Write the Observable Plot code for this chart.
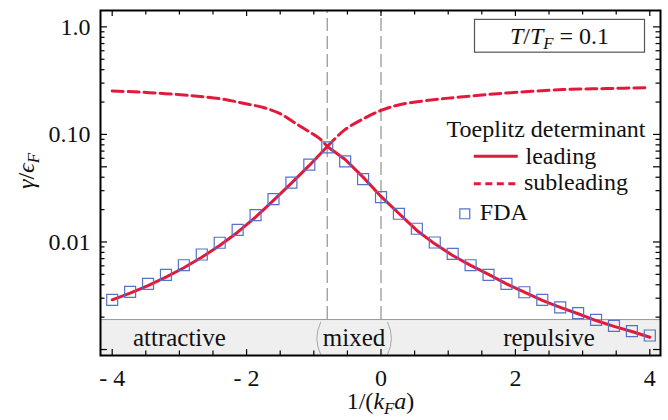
<!DOCTYPE html>
<html><head><meta charset="utf-8">
<script src="https://cdn.jsdelivr.net/npm/d3@7"></script>
<script src="https://cdn.jsdelivr.net/npm/@observablehq/plot@0.6"></script>
<style>body{margin:0;background:#fff}</style>
</head><body><div id="chart"></div>
<script>
// ---- data ----
const fdaX = [-4, -3.7333, -3.4667, -3.2, -2.9333, -2.6667, -2.4, -2.1333, -1.8667, -1.6, -1.3333, -1.0667, -0.8, -0.5333, -0.2667, 0, 0.2667, 0.5333, 0.8, 1.0667, 1.3333, 1.6, 1.8667, 2.1333, 2.4, 2.6667, 2.9333, 3.2, 3.4667, 3.7333, 4];
const fdaY = [0.00290, 0.00344, 0.00408, 0.00495, 0.00608, 0.00765, 0.00984, 0.01297, 0.01775, 0.0250, 0.0357, 0.0523, 0.0757, 0.0561, 0.0384, 0.0261, 0.01829, 0.01327, 0.00989, 0.00776, 0.00608, 0.00495, 0.00408, 0.00341, 0.00290, 0.00247, 0.00218, 0.00189, 0.00166, 0.00148, 0.00135];
const leadingY = [0.00290, 0.00334, 0.00393, 0.00471, 0.00576, 0.00722, 0.00928, 0.01233, 0.01702, 0.02432, 0.0352, 0.0515, 0.0773, 0.0585, 0.0401, 0.0265, 0.0184, 0.0128, 0.00961, 0.00749, 0.00606, 0.00499, 0.00408, 0.00341, 0.00286, 0.00247, 0.00215, 0.00186, 0.00164, 0.00147, 0.00130];
const subLeftX = [-4, -3.68, -3.33, -2.98, -2.69, -2.35, -2.05, -1.74, -1.50, -1.30, -1.10, -0.90, -0.80];
const subLeftY = [0.253, 0.249, 0.242, 0.234, 0.225, 0.213, 0.195, 0.177, 0.156, 0.130, 0.109, 0.090, 0.077];
const subRightX = [-0.80, -0.55, -0.26, 0, 0.29, 0.78, 1.18, 1.73, 2.71, 3.35, 4.0];
const subRightY = [0.077, 0.109, 0.140, 0.167, 0.190, 0.210, 0.223, 0.239, 0.261, 0.267, 0.272];

const regionBounds = [-0.8, 0];
const regionNames = ["attractive", "mixed", "repulsive"];
const regionCenters = [-3.0, -0.4, 2.5];
const bracketX = [-0.94, 0.14];
const bandTop = 0.0019;
const bandLabelY = 0.00127;

const xLabelTicks = [-4, -2, 0, 2, 4];
const xTickLabels = ["- 4", "- 2", "0", "2", "4"];
const xMinorTicks = [-3.5, -3, -2.5, -1.5, -1, -0.5, 0.5, 1, 1.5, 2.5, 3, 3.5];
const yLabelTicks = [1, 0.1, 0.05, 0.01];
const yTickLabels = ["1.0", "0.10", "0.05", "0.01"];
const yMajorTicks = [1, 0.1, 0.05, 0.01, 0.001];
const yMinorTicks = [];
for (const dec of [0.001, 0.01, 0.1]) for (let m = 2; m <= 9; m++) if (!(dec === 0.01 && m === 5)) yMinorTicks.push(+(m * dec).toPrecision(3));

const legendTitle = "Toeplitz determinant";
const legendNames = ["leading", "subleading", "FDA"];
const paramLabel = "T/TF = 0.1";
const yLabel = "γ/ϵF";
const xLabel = "1/(kFa)";

// ---- tables ----
const fda = fdaX.map((x, i) => ({x, y: fdaY[i]}));
const lead = fdaX.map((x, i) => ({x, y: leadingY[i]}));
const sub = [
  ...subLeftX.map((x, i) => ({x, y: subLeftY[i], b: "L"})),
  ...subRightX.map((x, i) => ({x, y: subRightY[i], b: "R"}))
];

// ---- layout ----
const W = 668, H = 420, mL = 100, mR = 8, mT = 10, mB = 65;
const plotW = W - mL - mR, plotH = H - mT - mB;
const xDomain = [-4.174, 4.159], yDomain = [0.00088, 1.42];
const red = "#e3193b", blue = "#5472c6";
const serif = "Liberation Serif";
const lineSym = {draw(ctx) { ctx.moveTo(-22, 0); ctx.lineTo(22, 0); }};
const lParen = {draw(ctx) { ctx.moveTo(3, -16.5); ctx.quadraticCurveTo(-5, 0, 3, 16.5); }};
const rParen = {draw(ctx) { ctx.moveTo(-3, -16.5); ctx.quadraticCurveTo(5, 0, -3, 16.5); }};
const tk = {stroke: "black", strokeWidth: 1.2};
const lg = {frameAnchor: "top-right", lineAnchor: "middle", fontSize: 24, fontFamily: serif, text: d => d};

const chart = Plot.plot({
  width: W, height: H,
  marginLeft: mL, marginRight: mR, marginTop: mT, marginBottom: mB,
  style: {fontFamily: serif, background: "#fff", color: "#111"},
  x: {domain: xDomain},
  y: {type: "log", domain: yDomain},
  marks: [
    Plot.rect([0], {x1: () => xDomain[0], x2: () => xDomain[1], y1: () => yDomain[0], y2: () => bandTop, fill: "#efefef"}),
    Plot.ruleY([bandTop], {stroke: "#999", strokeWidth: 1}),
    Plot.ruleX(regionBounds, {y1: () => bandTop, y2: () => yDomain[1], stroke: "#9a9a9a", strokeWidth: 1.3, strokeDasharray: "13,5"}),
    Plot.text(regionNames, {x: (d, i) => regionCenters[i], y: () => bandLabelY, text: d => d, fontSize: 25, fontFamily: serif, fill: "#111"}),
    Plot.dot([bracketX[0]], {x: d => d, y: () => bandLabelY, symbol: lParen, stroke: "#a8a8a8", strokeWidth: 1, fill: "none"}),
    Plot.dot([bracketX[1]], {x: d => d, y: () => bandLabelY, symbol: rParen, stroke: "#a8a8a8", strokeWidth: 1, fill: "none"}),
    Plot.line(sub, {x: "x", y: "y", z: "b", stroke: red, strokeWidth: 3, strokeDasharray: "11,5", curve: "catmull-rom"}),
    Plot.line(lead, {x: "x", y: "y", stroke: red, strokeWidth: 3}),
    Plot.dot(fda, {x: "x", y: "y", symbol: "square", r: 6.2, stroke: blue, strokeWidth: 1.2, fill: "none"}),
    // inward ticks on all four sides
    Plot.tickY(yMajorTicks, {y: d => d, insetRight: plotW - 7, ...tk}),
    Plot.tickY(yMinorTicks, {y: d => d, insetRight: plotW - 4.5, ...tk}),
    Plot.tickY(yMajorTicks, {y: d => d, insetLeft: plotW - 7, ...tk}),
    Plot.tickY(yMinorTicks, {y: d => d, insetLeft: plotW - 4.5, ...tk}),
    Plot.tickX(xLabelTicks, {x: d => d, insetBottom: plotH - 6, ...tk}),
    Plot.tickX(xMinorTicks, {x: d => d, insetBottom: plotH - 4.5, ...tk}),
    Plot.tickX(xLabelTicks, {x: d => d, insetTop: plotH - 6, ...tk}),
    Plot.tickX(xMinorTicks, {x: d => d, insetTop: plotH - 4.5, ...tk}),
    Plot.frame({stroke: "black", strokeWidth: 2}),
    Plot.axisY({ticks: yLabelTicks, tickSize: 0, tickPadding: 10, fontSize: 24, fontFamily: serif, label: null,
      tickFormat: d => yTickLabels[yLabelTicks.indexOf(d)]}),
    Plot.axisX({ticks: xLabelTicks, tickSize: 0, tickPadding: 13, fontSize: 24, fontFamily: serif, label: null,
      tickFormat: d => xTickLabels[xLabelTicks.indexOf(d)]}),
    // axis titles
    Plot.text([yLabel], {text: d => d, frameAnchor: "left", textAnchor: "middle", lineAnchor: "middle", rotate: -90, dx: -74, dy: -12, fontSize: 24, fontFamily: serif}),
    Plot.text([xLabel], {text: d => d, frameAnchor: "bottom", textAnchor: "middle", lineAnchor: "middle", dy: 45.5, fontSize: 24, fontFamily: serif}),
    // legend
    Plot.text([paramLabel], {...lg, dx: -101, dy: 25.6, textAnchor: "middle"}),
    Plot.text([legendTitle], {...lg, dx: -15, dy: 119, textAnchor: "end"}),
    Plot.dot([0], {frameAnchor: "top-right", dx: -164.7, dy: 145.7, symbol: lineSym, stroke: red, strokeWidth: 3, fill: "none"}),
    Plot.text([legendNames[0]], {...lg, dx: -135, dy: 145.6, textAnchor: "start"}),
    Plot.dot([0], {frameAnchor: "top-right", dx: -164.7, dy: 173.3, symbol: lineSym, stroke: red, strokeWidth: 3, strokeDasharray: "7,4.5", fill: "none"}),
    Plot.text([legendNames[1]], {...lg, dx: -136.5, dy: 172.3, textAnchor: "start"}),
    Plot.dot([0], {frameAnchor: "top-right", dx: -195.7, dy: 203.3, symbol: "square", r: 5.6, stroke: blue, strokeWidth: 1.2, fill: "none"}),
    Plot.text([legendNames[2]], {...lg, dx: -180.7, dy: 202.3, textAnchor: "start"})
  ]
});
document.getElementById("chart").appendChild(chart);

// ---- math formatting (italics / subscripts) ----
const mathSpec = {
  [yLabel]: [["γ", "i"], ["/", ""], ["ϵ", "i"], ["F", "is"]],
  [xLabel]: [["1/(", ""], ["k", "i"], ["F", "is"], ["a", "i"], [")", ""]],
  [paramLabel]: [["T", "i"], ["/", ""], ["T", "i"], ["F", "is"], [" = 0.1", ""]]
};
let boxText = null, boxPlain = null;
d3.select(chart).selectAll("text").each(function() {
  const spec = mathSpec[this.textContent];
  if (!spec) return;
  if (this.textContent === paramLabel) { boxText = this; boxPlain = this.getBBox(); }
  const fs = parseFloat(getComputedStyle(this).fontSize);
  const sel = d3.select(this);
  sel.text(null);
  let shifted = false;
  for (const [t, f] of spec) {
    const ts = sel.append("tspan").text(t);
    if (f.includes("i")) ts.attr("font-style", "italic");
    if (f.includes("s")) {
      ts.attr("font-size", 0.7 * fs);
      if (!shifted) { ts.attr("dy", 0.22 * fs); shifted = true; }
    } else if (shifted) { ts.attr("dy", -0.22 * fs); shifted = false; }
  }
});
if (boxText) {
  const bb = boxText.getBBox();
  const cx = bb.x + bb.width / 2, cy = boxPlain.y + boxPlain.height / 2;
  const r = document.createElementNS("http://www.w3.org/2000/svg", "rect");
  r.setAttribute("x", cx - 85); r.setAttribute("width", 170);
  r.setAttribute("y", cy - 16.4); r.setAttribute("height", 32.8);
  r.setAttribute("fill", "#fff"); r.setAttribute("stroke", "#555"); r.setAttribute("stroke-width", 1.2);
  const t = boxText.getAttribute("transform"); if (t) r.setAttribute("transform", t);
  boxText.parentNode.insertBefore(r, boxText);
}
</script>
</body></html>
